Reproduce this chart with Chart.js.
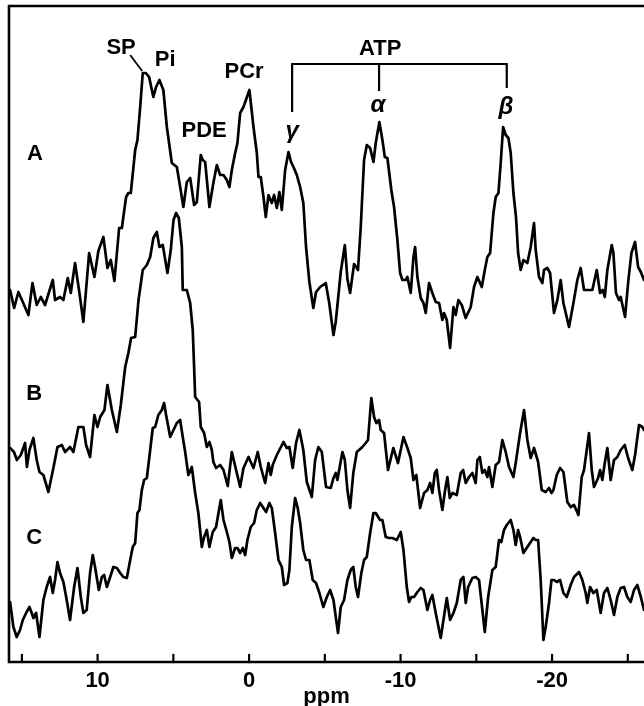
<!DOCTYPE html>
<html>
<head>
<meta charset="utf-8">
<script src="https://cdn.jsdelivr.net/npm/chart.js@4/dist/chart.umd.min.js"></script>
<style>
  html, body { margin: 0; padding: 0; background: #fff; }
  #spectra { display: block; }
</style>
</head>
<body>
<canvas id="spectra" width="644" height="706"></canvas>
<script>
// chemical shift axis (ppm), drawn right to left like the original
const ppmMin = -26.07;
const ppmMax = 15.85;
const tickStep = 5;

// trace A
const ppmA = [15.78,15.51,15.23,14.94,14.57,14.30,14.02,13.75,13.47,12.96,
  12.81,12.48,12.26,11.97,11.77,11.49,11.20,10.94,10.56,10.21,
  9.95,9.62,9.35,9.13,8.89,8.58,8.40,8.12,7.97,7.81,
  7.52,7.37,7.19,7.02,6.82,6.60,6.32,6.14,5.92,5.66,
  5.43,5.10,4.77,4.55,4.34,4.11,3.89,3.63,3.45,3.19,
  3.06,2.90,2.62,2.36,2.13,1.91,1.69,1.47,1.30,1.14,
  0.92,0.77,0.59,0.37,-0.02,-0.29,-0.51,-0.62,-0.77,-0.95,
  -1.10,-1.28,-1.50,-1.65,-1.83,-2.00,-2.16,-2.38,-2.60,-2.77,
  -2.93,-3.15,-3.37,-3.58,-3.76,-3.98,-4.24,-4.42,-4.69,-5.06,
  -5.28,-5.57,-5.72,-6.05,-6.32,-6.49,-6.67,-6.93,-7.11,-7.19,
  -7.37,-7.59,-7.77,-7.99,-8.21,-8.36,-8.60,-8.80,-8.96,-9.13,
  -9.39,-9.57,-9.79,-9.97,-10.12,-10.34,-10.45,-10.67,-10.85,-10.96,
  -11.11,-11.33,-11.51,-11.66,-11.88,-12.10,-12.32,-12.54,-12.76,-12.87,
  -13.05,-13.27,-13.49,-13.64,-13.82,-14.04,-14.30,-14.63,-14.85,-15.07,
  -15.36,-15.56,-15.73,-15.91,-16.13,-16.28,-16.46,-16.61,-16.77,-16.94,
  -17.12,-17.27,-17.45,-17.62,-17.76,-17.93,-18.11,-18.37,-18.59,-18.81,
  -18.92,-19.14,-19.36,-19.47,-19.69,-19.87,-20.13,-20.35,-20.57,-20.75,
  -21.12,-21.41,-21.67,-21.89,-22.11,-22.38,-22.66,-22.95,-23.17,-23.35,
  -23.48,-23.65,-23.94,-24.05,-24.22,-24.42,-24.53,-24.82,-25.04,-25.24,
  -25.48,-25.68,-25.86,-26.07];
const intA = [372,354,370,360,347,379,357,365,357,382,
  362,365,362,384,369,399,369,340,409,385,
  411,425,394,402,381,434,434,465,469,469,
  512,522,555,589,589,585,565,575,582,572,
  535,499,495,475,455,480,484,457,460,507,
  502,500,455,479,497,487,487,482,475,492,
  509,519,549,555,572,535,509,485,485,465,
  445,467,459,467,454,470,452,492,510,500,
  495,487,475,459,415,380,354,370,375,379,
  360,327,340,390,417,383,369,398,394,392,
  435,502,517,514,500,519,540,522,505,504,
  472,455,422,389,382,382,385,369,405,415,
  385,364,359,349,379,369,360,359,342,349,
  342,314,355,347,362,357,344,355,375,385,
  375,392,405,409,449,465,469,499,535,527,
  524,509,469,445,409,392,402,399,415,439,
  412,385,379,392,394,389,349,362,382,359,
  335,359,382,394,372,372,372,392,369,372,
  365,392,417,409,369,362,365,345,382,409,
  420,395,390,382];

// trace B
const ppmB = [15.78,15.52,15.33,15.07,14.79,14.67,14.50,14.24,14.02,13.84,
  13.58,13.25,12.92,12.65,12.36,12.15,11.82,11.60,11.27,10.94,
  10.76,10.50,10.21,10.01,9.83,9.55,9.35,9.06,8.73,8.47,
  8.18,7.97,7.79,7.52,7.30,7.02,6.75,6.53,6.32,6.09,
  5.92,5.70,5.39,5.17,4.99,4.82,4.64,4.44,4.38,4.11,
  3.89,3.72,3.63,3.56,3.30,3.19,2.97,2.79,2.62,2.46,
  2.36,2.18,1.91,1.69,1.41,1.14,0.81,0.59,0.37,0.04,
  -0.29,-0.57,-0.77,-1.06,-1.28,-1.43,-1.56,-1.83,-2.27,-2.49,
  -2.66,-2.88,-3.10,-3.32,-3.58,-3.81,-4.14,-4.36,-4.57,-4.80,
  -5.08,-5.39,-5.57,-5.72,-5.83,-6.16,-6.32,-6.49,-6.67,-6.88,
  -7.11,-7.48,-7.70,-7.85,-8.07,-8.25,-8.40,-8.58,-8.69,-8.91,
  -9.17,-9.52,-9.83,-10.19,-10.45,-10.67,-10.85,-11.04,-11.29,-11.55,
  -11.77,-11.95,-12.10,-12.26,-12.39,-12.54,-12.76,-12.94,-13.09,-13.25,
  -13.42,-13.71,-13.97,-14.13,-14.30,-14.52,-14.74,-14.96,-15.07,-15.23,
  -15.40,-15.56,-15.73,-15.84,-16.06,-16.28,-16.50,-16.72,-16.94,-17.16,
  -17.45,-17.60,-17.89,-18.15,-18.37,-18.59,-18.81,-19.08,-19.32,-19.58,
  -19.80,-19.96,-20.09,-20.31,-20.53,-20.75,-21.01,-21.23,-21.45,-21.74,
  -21.96,-22.11,-22.29,-22.44,-22.62,-22.77,-23.04,-23.17,-23.32,-23.48,
  -23.65,-23.87,-24.09,-24.31,-24.53,-24.80,-25.02,-25.30,-25.48,-25.74,
  -25.96,-26.07];
const intB = [214,210,202,207,219,195,212,224,202,190,
  187,170,194,215,217,210,215,210,235,235,
  217,205,247,235,245,252,277,252,230,257,
  295,309,324,325,362,392,397,405,424,430,
  415,417,389,412,442,449,444,415,372,372,
  359,332,295,265,260,235,229,215,220,212,
  200,194,197,192,176,210,189,175,194,205,
  194,210,195,179,199,187,197,207,220,214,
  215,194,219,232,212,180,165,202,215,210,
  175,174,184,189,182,210,202,172,154,189,
  210,215,219,222,264,245,239,242,232,229,
  192,214,199,225,214,204,182,187,154,169,
  172,179,169,189,192,172,152,172,185,164,
  169,167,189,192,179,185,189,179,202,205,
  189,192,185,195,175,197,200,222,210,195,
  185,199,229,252,222,204,214,200,172,170,
  174,169,172,187,194,190,160,155,157,147,
  185,192,212,229,192,175,184,192,182,199,
  214,182,202,205,212,217,204,192,207,237,
  235,232];

// trace C
const ppmC = [15.78,15.56,15.34,15.12,14.94,14.72,14.50,14.35,14.24,14.06,
  13.84,13.58,13.36,13.14,12.96,12.81,12.65,12.48,12.26,12.04,
  11.82,11.55,11.33,11.11,10.94,10.72,10.50,10.32,10.17,9.92,
  9.72,9.57,9.39,9.17,8.96,8.73,8.51,8.30,8.07,7.85,
  7.68,7.52,7.37,7.24,7.08,6.93,6.75,6.53,6.36,6.20,
  5.99,5.76,5.61,5.48,5.33,5.21,4.99,4.77,4.55,4.38,
  4.22,4.01,3.78,3.56,3.35,3.12,2.97,2.79,2.62,2.40,
  2.18,2.02,1.87,1.69,1.47,1.30,1.14,0.92,0.77,0.59,
  0.42,0.26,0.11,-0.11,-0.33,-0.51,-0.73,-0.95,-1.12,-1.34,
  -1.50,-1.72,-1.94,-2.16,-2.31,-2.53,-2.66,-2.82,-3.04,-3.21,
  -3.37,-3.58,-3.76,-3.98,-4.20,-4.42,-4.64,-4.90,-5.13,-5.35,
  -5.57,-5.87,-6.05,-6.27,-6.49,-6.71,-6.88,-7.04,-7.19,-7.41,
  -7.59,-7.77,-7.99,-8.21,-8.36,-8.65,-8.80,-9.02,-9.24,-9.46,
  -9.75,-10.01,-10.19,-10.41,-10.56,-10.71,-10.89,-11.11,-11.33,-11.51,
  -11.77,-11.95,-12.10,-12.32,-12.65,-12.83,-13.05,-13.27,-13.49,-13.71,
  -13.97,-14.15,-14.30,-14.46,-14.74,-14.96,-15.18,-15.40,-15.56,-15.78,
  -16.06,-16.28,-16.50,-16.65,-16.83,-17.01,-17.27,-17.45,-17.60,-17.76,
  -17.89,-18.11,-18.37,-18.59,-18.77,-18.92,-19.08,-19.25,-19.43,-19.58,
  -19.80,-19.96,-20.13,-20.31,-20.53,-20.75,-20.97,-21.23,-21.45,-21.78,
  -22.00,-22.22,-22.33,-22.51,-22.73,-22.95,-23.21,-23.43,-23.65,-23.87,
  -24.09,-24.31,-24.53,-24.75,-24.97,-25.19,-25.41,-25.63,-25.86,-26.07];
const intC = [60,35,25,32,42,49,55,49,44,49,
  25,62,75,85,69,82,100,89,80,62,
  42,75,94,65,49,52,89,107,95,72,
  85,87,75,85,95,94,89,85,84,102,
  115,119,149,152,172,182,184,212,234,235,
  247,252,259,247,235,225,232,239,242,225,
  210,187,195,169,149,115,125,132,115,130,
  135,149,162,142,130,120,104,114,114,109,
  114,107,122,135,139,152,159,154,150,159,
  154,129,102,95,77,79,92,135,164,154,
  139,112,102,102,82,79,69,55,65,72,
  62,29,55,62,82,92,95,75,65,89,
  102,105,129,149,149,142,142,125,124,124,
  122,130,112,75,60,65,65,70,74,72,
  52,62,67,49,24,42,64,42,49,59,
  82,85,59,75,84,85,82,52,30,65,
  92,95,122,120,132,137,142,132,117,132,
  125,109,115,120,124,122,122,82,22,35,
  59,82,82,80,82,69,65,77,85,90,
  82,69,59,75,69,72,49,69,74,62,
  47,65,74,75,65,60,72,77,65,52];

// text labels inside the plot: [text, ppm, intensity, italic]
const peakLabels = [
  ["SP", 8.45, 614, false],
  ["Pi", 5.54, 602, false],
  ["PCr", 0.33, 590, false],
  ["PDE", 2.97, 531, false],
  ["ATP", -8.65, 613, false],
  ["\u03B3", -2.84, 531, true],
  ["\u03B1", -8.51, 557, true],
  ["\u03B2", -16.96, 555, true],
  ["A", 14.13, 508, false],
  ["B", 14.19, 268, false],
  ["C", 14.19, 124, false]
];
// ATP bracket: bar level and the three legs [ppm, lower end]
const bracketLevel = 598;
const bracketLegs = [[-2.84, 550], [-8.58, 571], [-17.01, 574]];
// leader from the SP label to its peak
const spLeader = [[7.85, 607], [7.06, 591]];

const toPoints = (xs, ys) => xs.map((x, i) => ({ x: x, y: ys[i] }));
const traceStyle = {
  borderColor: '#000',
  borderWidth: 2.7,
  pointRadius: 0,
  fill: false,
  tension: 0,
  borderJoinStyle: 'round',
  borderCapStyle: 'round'
};
const fontFamily = '"Liberation Sans", Arial, sans-serif';

const frame = {
  id: 'frame',
  afterDatasetsDraw(chart) {
    const ctx = chart.ctx;
    const area = chart.chartArea;
    const xs = chart.scales.x;
    const ys = chart.scales.y;
    ctx.save();
    ctx.strokeStyle = '#000';
    ctx.lineCap = 'square';

    // box: top, left, bottom
    ctx.lineWidth = 2.6;
    ctx.beginPath();
    ctx.moveTo(area.right + 2, area.top);
    ctx.lineTo(area.left, area.top);
    ctx.lineTo(area.left, area.bottom);
    ctx.lineTo(area.right + 2, area.bottom);
    ctx.stroke();

    // inward tick marks
    ctx.lineWidth = 2.2;
    xs.ticks.forEach(t => {
      const px = xs.getPixelForValue(t.value);
      ctx.beginPath();
      ctx.moveTo(px, area.bottom);
      ctx.lineTo(px, area.bottom - 7);
      ctx.stroke();
    });

    // ATP bracket
    ctx.lineWidth = 2.2;
    ctx.lineCap = 'butt';
    const by = ys.getPixelForValue(bracketLevel);
    ctx.beginPath();
    ctx.moveTo(xs.getPixelForValue(bracketLegs[0][0]) - 1, by);
    ctx.lineTo(xs.getPixelForValue(bracketLegs[2][0]) + 1, by);
    bracketLegs.forEach(l => {
      const px = xs.getPixelForValue(l[0]);
      ctx.moveTo(px, by);
      ctx.lineTo(px, ys.getPixelForValue(l[1]));
    });
    ctx.stroke();

    // SP leader
    ctx.lineWidth = 1.8;
    ctx.beginPath();
    ctx.moveTo(xs.getPixelForValue(spLeader[0][0]), ys.getPixelForValue(spLeader[0][1]));
    ctx.lineTo(xs.getPixelForValue(spLeader[1][0]), ys.getPixelForValue(spLeader[1][1]));
    ctx.stroke();

    // labels
    ctx.fillStyle = '#000';
    ctx.textAlign = 'center';
    ctx.textBaseline = 'middle';
    peakLabels.forEach(l => {
      ctx.font = (l[3] ? 'italic bold 24px ' : 'bold 22px ') + fontFamily;
      ctx.fillText(l[0], xs.getPixelForValue(l[1]), ys.getPixelForValue(l[2]));
    });
    ctx.restore();
  }
};

new Chart(document.getElementById('spectra'), {
  type: 'line',
  data: {
    datasets: [
      Object.assign({ label: 'A', data: toPoints(ppmA, intA) }, traceStyle),
      Object.assign({ label: 'B', data: toPoints(ppmB, intB) }, traceStyle),
      Object.assign({ label: 'C', data: toPoints(ppmC, intC) }, traceStyle)
    ]
  },
  options: {
    responsive: false,
    animation: false,
    layout: { padding: { left: 9, top: 6, right: 0, bottom: 0 } },
    plugins: {
      legend: { display: false },
      tooltip: { enabled: false }
    },
    scales: {
      x: {
        type: 'linear',
        reverse: true,
        min: ppmMin,
        max: ppmMax,
        afterFit: (axis) => { axis.height = 44; },
        grid: { display: false },
        border: { display: false },
        ticks: {
          stepSize: tickStep,
          includeBounds: false,
          autoSkip: false,
          maxRotation: 0,
          padding: -2,
          color: '#000',
          font: { family: fontFamily, size: 22, weight: 'bold' },
          callback: (v) => (v % 10 === 0 ? String(v) : '')
        },
        title: {
          display: true,
          text: 'ppm',
          color: '#000',
          padding: { top: 0, bottom: -4 },
          font: { family: fontFamily, size: 22, weight: 'bold' }
        }
      },
      y: {
        display: false,
        min: 0,
        max: 656
      }
    }
  },
  plugins: [frame]
});
</script>
</body>
</html>
